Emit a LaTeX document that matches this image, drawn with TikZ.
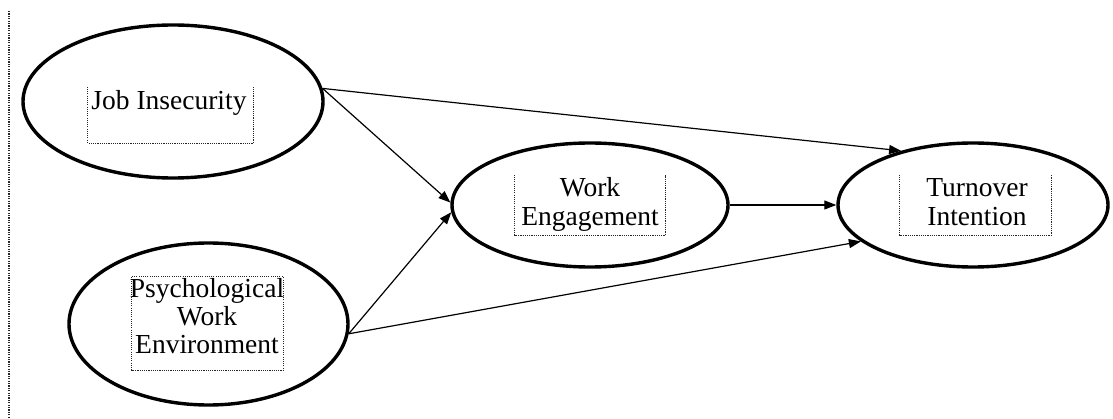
\documentclass[tikz,border=0pt]{standalone}
\usepackage{fontspec}
\setmainfont{Liberation Serif}
\usetikzlibrary{shapes.geometric,arrows.meta}
\begin{document}
\begin{tikzpicture}[x=1pt,y=-1pt,
  construct/.style={draw=black,line width=3.4pt,ellipse,inner sep=0pt},
  tbox/.style={rectangle,inner sep=0pt},
  dotbox/.style={draw=black!85,line width=1.3pt,dash pattern=on 1.1pt off 1.1pt},
  lbl/.style={font=\fontsize{27.5}{29}\selectfont,inner sep=0pt,anchor=base,align=center},
  link/.style={draw=black,line width=1.2pt,-{Triangle[length=12pt,width=9pt]}}]
\useasboundingbox (0,0) rectangle (1113,419);
% left dotted rule
\coordinate (rtop) at (9,11);
\coordinate (rbot) at (9,419);
\draw[line width=1.8pt,dash pattern=on 1.3pt off 1.1pt,black!85] (rtop) -- (rbot);
% constructs
\node[construct,minimum width=300pt,minimum height=153pt] (job) at (173,101.5) {};
\node[construct,minimum width=279pt,minimum height=162pt] (psy) at (208.5,324) {};
\node[construct,minimum width=276pt,minimum height=124pt] (eng) at (590,205) {};
\node[construct,minimum width=270pt,minimum height=124pt] (tov) at (973,205) {};
% text boxes
\node[tbox,minimum width=165pt,minimum height=56pt] (jbox) at (170.5,115) {};
\node[tbox,minimum width=151pt,minimum height=93pt] (pbox) at (207.5,323.5) {};
\node[tbox,minimum width=150pt,minimum height=60pt] (ebox) at (590,205) {};
\node[tbox,minimum width=151pt,minimum height=60pt] (tbox) at (975.5,205) {};
\draw[dotbox] (jbox.north west) -- (jbox.south west) -- (jbox.south east) -- (jbox.north east);
\draw[dotbox] (pbox.north west) rectangle (pbox.south east);
\draw[dotbox] (ebox.north west) -- (ebox.south west) -- (ebox.south east) -- (ebox.north east);
\draw[dotbox] (tbox.north west) -- (tbox.south west) -- (tbox.south east) -- (tbox.north east);
% labels
\node[lbl] (jl) at (169,110) {Job Insecurity};
\node[lbl] (pl1) at (207,298) {Psychological};
\node[lbl] (pl2) at (207,326) {Work};
\node[lbl] (pl3) at (207,353) {Environment};
\node[lbl] (el1) at (590,197) {Work};
\node[lbl] (el2) at (590,226) {Engagement};
\node[lbl] (tl1) at (977,197) {Turnover};
\node[lbl] (tl2) at (977,226) {Intention};
% connectors
\draw[link] (job.5.5) -- (eng.179);
\draw[link] (psy.-4.5) -- (eng.183.3);
\draw[link] (job.5.5) -- (tov.143);
\draw[link] (psy.-4.5) -- (tov.198.6);
\draw[link] (eng.east) -- (tov.west);
\end{tikzpicture}
\end{document}
